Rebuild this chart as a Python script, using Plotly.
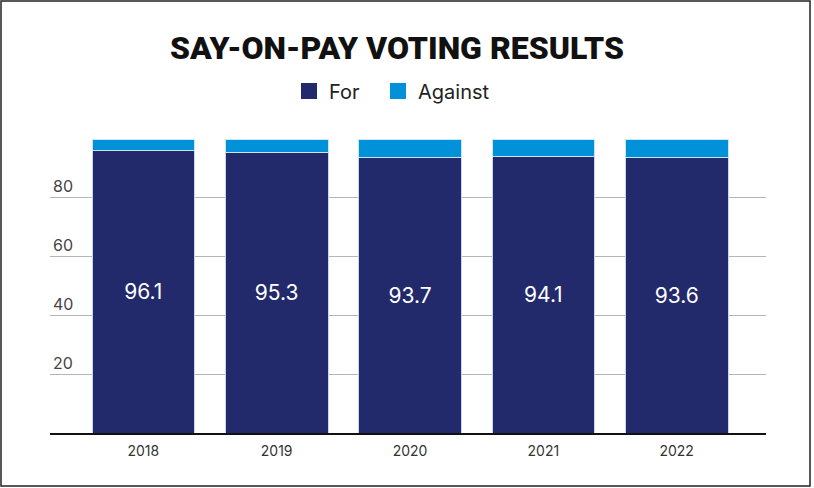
import plotly.graph_objects as go

years = ["2018", "2019", "2020", "2021", "2022"]
for_vals = [96.1, 95.3, 93.7, 94.1, 93.6]
against_vals = [3.7, 4.5, 6.1, 5.7, 6.2]
y_ticks = [20, 40, 60, 80]

FOR_COLOR = "#222A6B"
AGAINST_COLOR = "#0091D8"
FONT = "Inter, Liberation Sans, sans-serif"

fig = go.Figure()
fig.add_trace(go.Bar(
    x=years, y=for_vals, name="For", showlegend=False,
    marker=dict(color=FOR_COLOR, line=dict(color="#c9d6ee", width=1)),
    width=0.77,
    text=[f"{v:.1f}" for v in for_vals],
    textposition="inside", insidetextanchor="middle",
    textfont=dict(color="white", size=21, family=FONT),
    textangle=0,
))
fig.add_trace(go.Bar(
    x=years, y=against_vals, name="Against", showlegend=False,
    marker=dict(color=AGAINST_COLOR, line=dict(color="#c9e6f7", width=1)),
    width=0.77,
    textposition="none",
))
# legend-only entries with larger square swatches
for name, col, lg in [("For", FOR_COLOR, "legend"), ("Against", AGAINST_COLOR, "legend2")]:
    fig.add_trace(go.Scatter(
        x=[None], y=[None], mode="markers", name=name,
        marker=dict(symbol="square", size=19, color=col),
        showlegend=True, hoverinfo="skip", legend=lg,
    ))

legend_style = dict(
    orientation="h", xanchor="left", y=(433 - 91) / 294,
    yanchor="middle", xref="paper",
    font=dict(family=FONT, size=20, color="#222222"),
    itemsizing="trace", itemwidth=30, bgcolor="rgba(0,0,0,0)",
)

fig.update_layout(
    width=814, height=488,
    barmode="stack",
    paper_bgcolor="white", plot_bgcolor="white",
    margin=dict(l=50, r=48, t=139, b=55),
    title=dict(
        text="SAY-ON-PAY VOTING RESULTS",
        x=(397 - 50) / 716, xanchor="center", xref="paper",
        y=0.903, yanchor="middle",
        font=dict(family="Roboto, " + FONT, size=32, color="#111111", weight=900),
    ),
    legend=dict(x=(289 - 50) / 716, **legend_style),
    legend2=dict(x=(378 - 50) / 716, **legend_style),
    showlegend=True,
    font=dict(family=FONT),
)

fig.update_xaxes(
    type="category",
    range=[-0.70, 4.67],
    showline=True, linecolor="#111111", linewidth=2,
    showgrid=False, ticks="",
    tickfont=dict(size=14, color="#333333", family=FONT),
    ticklabelstandoff=4,
)
fig.update_yaxes(
    range=[0, 100],
    tickvals=y_ticks,
    ticktext=[str(t) for t in y_ticks],
    showgrid=True, gridcolor="#b5b5b5", gridwidth=1,
    zeroline=False, showline=False, ticks="",
    ticklabelposition="inside top",
    tickfont=dict(size=16, color="#444444", family=FONT),
)

fig.add_shape(
    type="rect", xref="paper", yref="paper",
    x0=(1 - 50) / 716, x1=(810 - 50) / 716,
    y0=(433 - 486) / 294, y1=(433 - 1) / 294,
    line=dict(color="#222222", width=1.5), fillcolor="rgba(0,0,0,0)",
    layer="above",
)

fig.write_html("out.html", config={"displayModeBar": False},
               post_script="document.body.style.margin='0';")
